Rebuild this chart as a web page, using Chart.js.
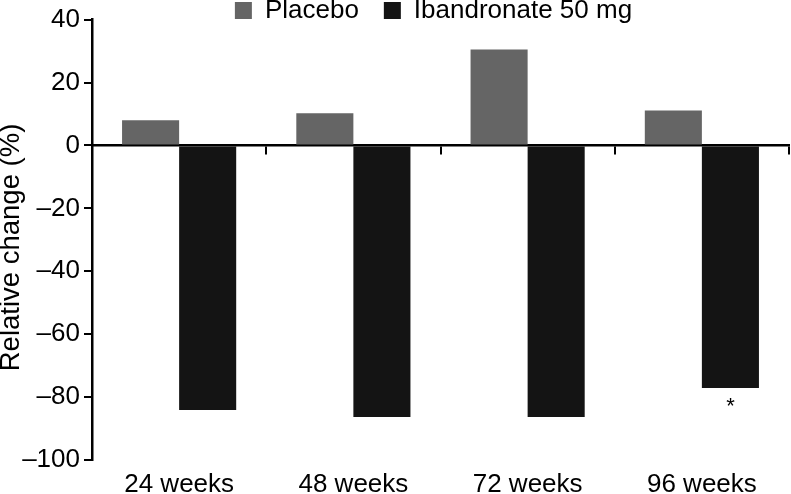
<!DOCTYPE html>
<html>
<head>
<meta charset="utf-8">
<script src="https://cdn.jsdelivr.net/npm/chart.js@4/dist/chart.umd.min.js"></script>
<style>
  html, body { margin: 0; padding: 0; background: #ffffff; }
  #wrap { width: 791px; height: 494px; }
</style>
</head>
<body>
<div id="wrap"><canvas id="c" width="791" height="494"></canvas></div>
<script>
const categories = ['24 weeks', '48 weeks', '72 weeks', '96 weeks'];
const seriesNames = ['Placebo', 'Ibandronate 50 mg'];
const placeboValues = [8, 10.2, 30.5, 11.1];
const ibandronateValues = [-84.1, -86.3, -86.3, -77.1];
const ibandronateMarks = ['', '', '', '*'];
const yMin = -100, yMax = 40, yStep = 20;

const FONT = '"Liberation Sans", Arial, Helvetica, sans-serif';

const asteriskPlugin = {
  id: 'asterisks',
  afterDatasetsDraw(chart) {
    const meta = chart.getDatasetMeta(1);
    const ctx = chart.ctx;
    ctx.save();
    ctx.fillStyle = '#000';
    ctx.font = '22px ' + FONT;
    ctx.textAlign = 'center';
    ctx.textBaseline = 'top';
    meta.data.forEach((bar, i) => {
      const mark = ibandronateMarks[i];
      if (!mark) return;
      ctx.fillText(mark, bar.x, bar.y + 8);
    });
    ctx.restore();
  }
};

const legendShift = {
  id: 'legendShift',
  afterLayout(chart) {
    const lg = chart.legend;
    if (lg) {
      lg.left -= 7;
      lg.right -= 7;
      lg.bottom += 10;
      lg.height = lg.bottom - lg.top;
    }
  }
};

new Chart(document.getElementById('c'), {
  type: 'bar',
  data: {
    labels: categories,
    datasets: [
      { label: seriesNames[0], data: placeboValues, backgroundColor: '#656565', borderWidth: 0,
        categoryPercentage: 0.655, barPercentage: 1.0 },
      { label: seriesNames[1], data: ibandronateValues, backgroundColor: '#141414', borderWidth: 0,
        categoryPercentage: 0.655, barPercentage: 1.0 }
    ]
  },
  options: {
    responsive: false,
    animation: false,
    devicePixelRatio: 1,
    layout: { padding: { top: -28, right: 2, bottom: 0, left: 0 } },
    plugins: {
      tooltip: { enabled: false },
      legend: {
        position: 'top',
        fullSize: false,
        maxHeight: 47,
        labels: {
          color: '#000',
          font: { family: FONT, size: 26 },
          boxWidth: 17,
          boxHeight: 17,
          padding: 25
        }
      }
    },
    scales: {
      x: {
        position: 'bottom',
        border: { display: false },
        grid: { display: false, drawTicks: false },
        ticks: { color: '#000', padding: 12, font: { family: FONT, size: 26, lineHeight: 1.0 }, maxRotation: 0 },
        afterFit: (scale) => { scale.height = 34; }
      },
      x2: {
        type: 'category',
        labels: categories,
        position: { y: 0 },
        offset: true,
        border: { display: true, color: '#000', width: 2.5 },
        grid: { display: true, drawOnChartArea: false, drawTicks: true, tickLength: 8, color: '#000', lineWidth: 2, offset: true },
        ticks: { display: false }
      },
      y: {
        min: yMin,
        max: yMax,
        border: { display: true, color: '#000', width: 2.5 },
        grid: { drawOnChartArea: false, drawTicks: true, tickLength: 8, color: '#000', lineWidth: 2 },
        ticks: {
          stepSize: yStep,
          color: '#000',
          padding: 4,
          font: { family: FONT, size: 26 },
          callback: (v) => (v < 0 ? '\u2013' + Math.abs(v) : String(v))
        },
        title: {
          display: true,
          text: 'Relative change (%)\u00a0\u00a0',
          color: '#000',
          padding: 0,
          font: { family: FONT, size: 27.5, lineHeight: 0.85 }
        },
        afterFit: (scale) => { scale.width = 92; }
      }
    }
  },
  plugins: [asteriskPlugin, legendShift]
});
</script>
</body>
</html>
